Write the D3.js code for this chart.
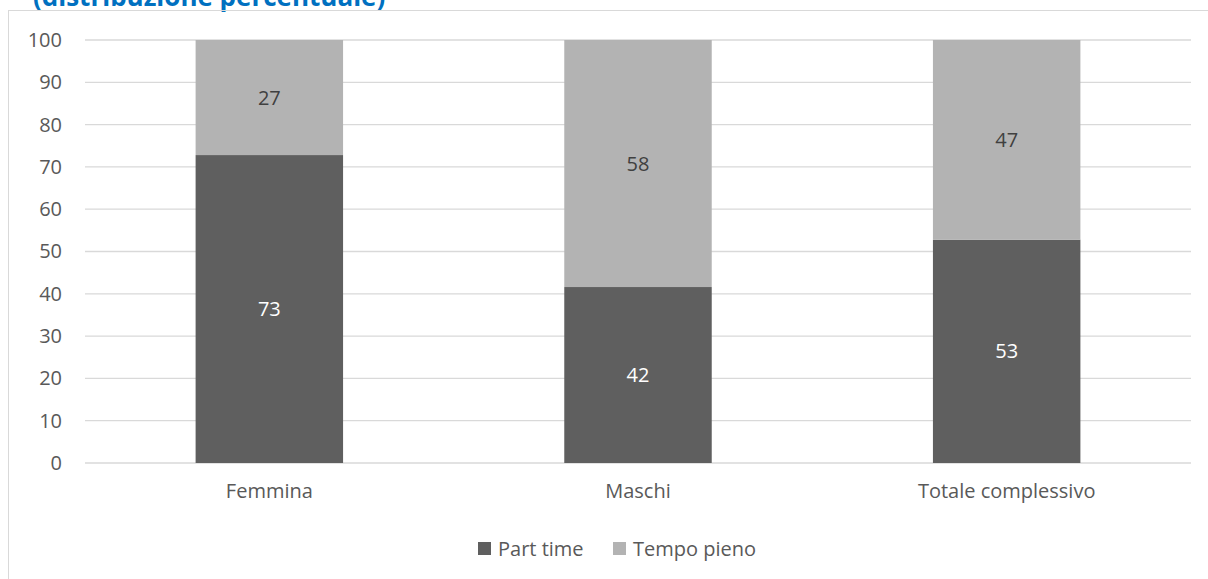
<!DOCTYPE html>
<html><head><meta charset="utf-8">
<script src="https://cdn.jsdelivr.net/npm/d3@7/dist/d3.min.js"></script>
<style>body{margin:0;background:#fff}svg{display:block}</style>
</head><body>
<svg id="c" width="1208" height="579"></svg>
<script>
const categories = ["Femmina", "Maschi", "Totale complessivo"];
const partTime = [72.8, 41.6, 52.8];
const tempoPieno = [27.2, 58.4, 47.2];
const seriesNames = ["Part time", "Tempo pieno"];
const yTicks = [0, 10, 20, 30, 40, 50, 60, 70, 80, 90, 100];
const colors = ["#5f5f5f", "#b3b3b3"];

const svg = d3.select("#c");
const font = "'Open Sans', 'Noto Sans', sans-serif";
const fs = 20;

// title (cropped at top, as in the reference)
svg.append("text").attr("x", 33).attr("y", 6)
  .attr("font-family", font).attr("font-weight", "bold").attr("font-size", 26)
  .attr("fill", "#0070C0").text("(distribuzione percentuale)");

// frame
svg.append("rect").attr("x", 8.5).attr("y", 10.5).attr("width", 1300).attr("height", 700)
  .attr("fill", "none").attr("stroke", "#d9d9d9").attr("stroke-width", 1);

const x0 = 85, x1 = 1191, yTop = 40, yBot = 463;
const x = d3.scaleBand().domain(categories).range([x0, x1]).padding(0);
const y = d3.scaleLinear().domain([0, 100]).range([yBot, yTop]);

// gridlines
svg.append("g").selectAll("line").data(yTicks).join("line")
  .attr("x1", x0).attr("x2", x1)
  .attr("y1", d => y(d)).attr("y2", d => y(d))
  .attr("stroke", "#d9d9d9").attr("stroke-width", 1.3);

// y axis labels
const yAxis = d3.axisLeft(y).tickValues(yTicks).tickSize(0).tickPadding(0);
const gy = svg.append("g").attr("transform", "translate(62,0)").call(yAxis);
gy.select(".domain").remove();
gy.selectAll("text").attr("font-family", font).attr("font-size", fs).attr("fill", "#595959");

// stacked data
const rows = categories.map((c, i) => ({cat: c, "Part time": partTime[i], "Tempo pieno": tempoPieno[i]}));
const stack = d3.stack().keys(seriesNames)(rows);
const bw = x.bandwidth() * 0.4;

stack.forEach((s, si) => {
  const g = svg.append("g");
  g.selectAll("rect").data(s).join("rect")
    .attr("x", d => x(d.data.cat) + (x.bandwidth() - bw) / 2)
    .attr("width", bw)
    .attr("y", d => y(d[1]))
    .attr("height", d => y(d[0]) - y(d[1]))
    .attr("fill", colors[si]);
  g.selectAll("text").data(s).join("text")
    .attr("x", d => x(d.data.cat) + x.bandwidth() / 2)
    .attr("y", d => (y(d[0]) + y(d[1])) / 2)
    .attr("dy", "0.35em").attr("text-anchor", "middle")
    .attr("font-family", font).attr("font-size", fs)
    .attr("fill", si === 0 ? "#ffffff" : "#404040")
    .text(d => Math.round(d[1] - d[0]));
});

// x axis labels
const xAxis = d3.axisBottom(x).tickSize(0).tickPadding(0);
const gx = svg.append("g").attr("transform", "translate(0,484)").call(xAxis);
gx.select(".domain").remove();
gx.selectAll("text").attr("font-family", font).attr("font-size", fs).attr("fill", "#595959").attr("dy", "0.71em");

// legend
const legendX = [478, 613];
const lg = svg.append("g");
seriesNames.forEach((n, i) => {
  lg.append("rect").attr("x", legendX[i]).attr("y", 542).attr("width", 13).attr("height", 13).attr("fill", colors[i]);
  lg.append("text").attr("x", legendX[i] + 20).attr("y", 548.5).attr("dy", "0.35em")
    .attr("font-family", font).attr("font-size", fs).attr("fill", "#595959").text(n);
});
</script>
</body></html>
